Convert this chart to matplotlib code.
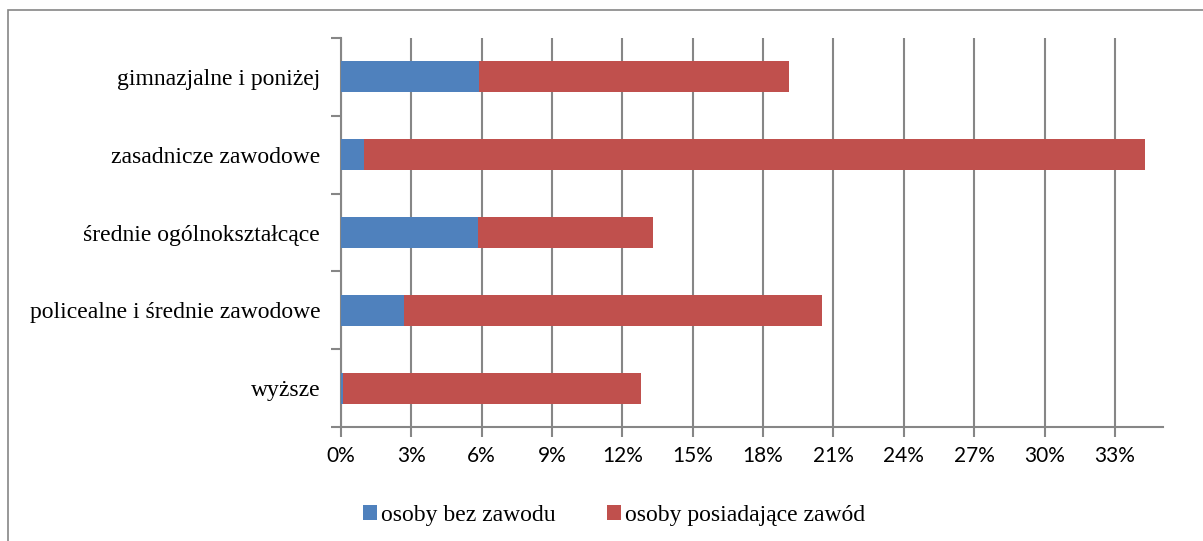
import numpy as np
import matplotlib.pyplot as plt
from matplotlib.patches import Rectangle

categories = ['gimnazjalne i poniżej', 'zasadnicze zawodowe', 'średnie ogólnokształcące',
              'policealne i średnie zawodowe', 'wyższe']
bez_zawodu = [5.9, 1.0, 5.85, 2.7, 0.1]
z_zawodem = [13.2, 33.3, 7.45, 17.8, 12.7]
x_ticks = [0, 3, 6, 9, 12, 15, 18, 21, 24, 27, 30, 33]

blue = '#4F81BD'
red = '#C0504D'
grey = '#868686'

fig = plt.figure(figsize=(12.03, 5.41), dpi=100)
# frame of the chart area (cut off on the right and bottom)
fig.patches.append(Rectangle((8 / 1203, -0.1), 1.2, 1 - 10 / 541 + 0.1,
                             transform=fig.transFigure, fill=False,
                             edgecolor=grey, linewidth=1.2))

ax = fig.add_axes([341 / 1203, 1 - 427 / 541, (1163 - 341) / 1203, (427 - 38) / 541])

y = np.arange(len(categories))
ax.barh(y, bez_zawodu, height=0.4, color=blue, label='osoby bez zawodu', zorder=3)
ax.barh(y, z_zawodem, left=bez_zawodu, height=0.4, color=red,
        label='osoby posiadające zawód', zorder=3)

ax.set_xlim(0, 35.05)
ax.set_ylim(len(categories) - 0.5, -0.5)

ax.set_xticks(x_ticks)
ax.set_xticklabels([f'{v}%' for v in x_ticks], fontsize=15, family='Lato')
ax.xaxis.grid(True, color=grey, linewidth=1.5, zorder=0)

ax.set_yticks(y)
ax.set_yticklabels(categories, fontsize=17, family='Liberation Serif')
ax.set_yticks(np.arange(-0.5, len(categories)), minor=True)
ax.tick_params(axis='y', which='major', length=0, pad=15)
ax.tick_params(axis='y', which='minor', length=7, width=1.5, color=grey)
ax.tick_params(axis='x', length=7, width=1.5, color=grey, pad=7)

for s in ['top', 'right']:
    ax.spines[s].set_visible(False)
for s in ['left', 'bottom']:
    ax.spines[s].set_color(grey)
    ax.spines[s].set_linewidth(1.5)

fig.legend(loc='center', bbox_to_anchor=(614 / 1203, 1 - 515 / 541), ncol=2,
           frameon=False, prop={'family': 'Liberation Serif', 'size': 17},
           handlelength=0.6, handleheight=0.6, handletextpad=0.15, columnspacing=2.2)

fig.savefig('out.png', dpi=100)
